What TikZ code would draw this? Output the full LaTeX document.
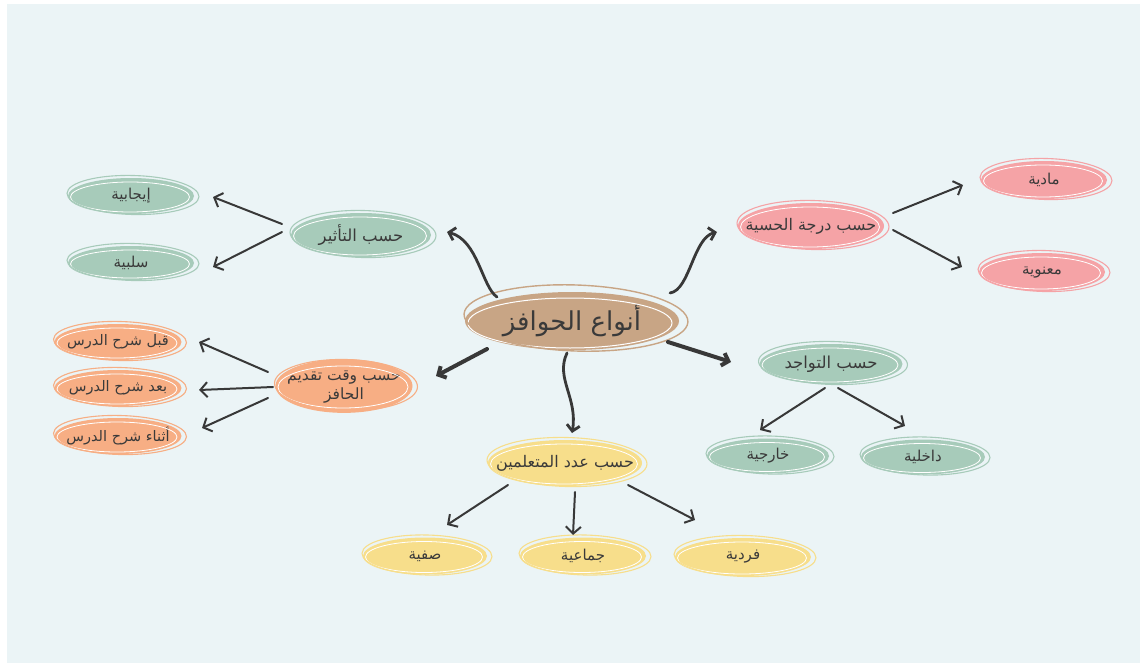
\documentclass[tikz,border=0pt]{standalone}
\usepackage{fontspec}
\usetikzlibrary{shapes.geometric,arrows.meta}
\TeXXeTstate=1
\newfontfamily\arabicfont[Script=Arabic]{DejaVu Sans}
\definecolor{bgc}{HTML}{EBF4F6}
\definecolor{tanc}{HTML}{C8A585}
\definecolor{greenc}{HTML}{A7CBBA}
\definecolor{orangec}{HTML}{F7AE84}
\definecolor{pinkc}{HTML}{F5A3A6}
\definecolor{yellowc}{HTML}{F7DE8B}
\definecolor{inkc}{HTML}{383838}
\definecolor{txtc}{HTML}{3A3A3A}
\tikzset{
  bubble/.style={ellipse, inner sep=0pt, text=txtc, font=\arabicfont},
  arr/.style={draw=inkc, line width=2pt, line cap=round,
    -{Straight Barb[length=7pt,width=15pt]}},
  thickarr/.style={draw=inkc, line width=4pt, line cap=round,
    -{Straight Barb[length=6pt,width=13pt]}},
  curvearr/.style={draw=inkc, line width=2.8pt, line cap=round,
    -{Straight Barb[length=6pt,width=13pt]}},
  sketchw/.style={draw=white, line width=0.8pt},
}
% #1 name, #2 x, #3 y, #4 w, #5 h, #6 colour, #7 font size, #8 text
\newcommand\bub[8]{%
  \node[bubble, fill=#6, minimum width=#4, minimum height=#5] (#1) at (#2,#3)
    {\fontsize{#7}{18}\selectfont\makebox[0pt]{\raisebox{-1pt}{#8}}};
  \draw[sketchw] (#2-1,#3+1) ellipse [x radius=#4/2-3.5, y radius=#5/2-3];
  \draw[draw=#6, line width=1.1pt] (#2+2,#3-1) ellipse [x radius=#4/2+3, y radius=#5/2+1.5, rotate=-1.5];
}
\begin{document}
\begin{tikzpicture}[x=1pt,y=-1pt]
\useasboundingbox (0,0) rectangle (1142,666);
\fill[bgc] (7,4) rectangle (1140,663);

% main
\node[bubble, fill=tanc, minimum width=214, minimum height=58] (main) at (572,321)
  {\fontsize{26}{30}\selectfont\makebox[0pt]{\beginR أنواع الحوافز\endR}};
\draw[sketchw, line width=1pt] (570,323) ellipse [x radius=102, y radius=25];
\draw[draw=tanc, line width=1.4pt] (576,318) ellipse [x radius=112, y radius=33, rotate=-2];

% level 1
\bub{tathir}{361}{235}{140}{44}{greenc}{16.5}{\beginR حسب التأثير\endR}
\node[bubble, fill=orangec, minimum width=137, minimum height=48] (waqt) at (344,386)
  {\fontsize{15.5}{19}\selectfont\makebox[0pt]{\renewcommand\arraystretch{1.0}\begin{tabular}{@{}c@{}}\beginR حسب وقت تقديم\endR\\\beginR الحافز\endR\end{tabular}}};
\draw[sketchw] (343,387) ellipse [x radius=65, y radius=21];
\draw[draw=orangec, line width=1.1pt] (346,385) ellipse [x radius=71.5, y radius=25.5, rotate=-1.5];
\bub{hs}{811}{226}{146}{46}{pinkc}{16}{\beginR حسب درجة الحسية\endR}
\bub{taw}{831}{364}{143}{40}{greenc}{16.5}{\beginR حسب التواجد\endR}
\bub{adad}{565}{463}{154}{46}{yellowc}{16}{\beginR حسب عدد المتعلمين\endR}

% leaves
\bub{ijab}{131}{196}{126}{36}{greenc}{15}{\beginR إيجابية\endR}
\bub{salb}{131}{263}{126}{34}{greenc}{15}{\beginR سلبية\endR}
\bub{qabl}{118}{342}{127}{36}{orangec}{14.5}{\beginR قبل شرح الدرس\endR}
\bub{baad}{118}{388}{127}{36}{orangec}{14.5}{\beginR بعد شرح الدرس\endR}
\bub{athna}{118}{436}{127}{36}{orangec}{14.5}{\beginR أثناء شرح الدرس\endR}
\bub{mad}{1044}{180}{126}{38}{pinkc}{15}{\beginR مادية\endR}
\bub{man}{1042}{272}{126}{38}{pinkc}{15}{\beginR معنوية\endR}
\bub{khar}{768}{456}{122}{35}{greenc}{15}{\beginR خارجية\endR}
\bub{dakh}{923}{457}{124}{35}{greenc}{15}{\beginR داخلية\endR}
\bub{saf}{425}{556}{124}{37}{yellowc}{15}{\beginR صفية\endR}
\bub{jam}{583}{556}{126}{37}{yellowc}{15}{\beginR جماعية\endR}
\bub{fard}{743}{557}{136}{38}{yellowc}{15}{\beginR فردية\endR}

% main connectors
\draw[curvearr] ([shift={(-75,-24)}]main.center) .. controls (482,287) and (478,240) .. ([shift={(86,-3)}]tathir.center);
\draw[curvearr] ([shift={(98,-28)}]main.center) .. controls (690,290) and (693,238) .. ([shift={(-94,6)}]hs.center);
\draw[thickarr] ([shift={(-85,28)}]main.center) -- ([shift={(92,-10)}]waqt.center);
\draw[thickarr] ([shift={(96,21)}]main.center) -- ([shift={(-100,-2)}]taw.center);
\draw[curvearr] ([shift={(-5,32)}]main.center) .. controls (555,378) and (578,398) .. ([shift={(7,-30)}]adad.center);

% leaf connectors
\draw[arr] ([shift={(-79,-11)}]tathir.center) -- ([shift={(82,1)}]ijab.center);
\draw[arr] ([shift={(-79,-3)}]tathir.center) -- ([shift={(82,4)}]salb.center);
\draw[arr] ([shift={(-76,-14)}]waqt.center) -- ([shift={(81,0)}]qabl.center);
\draw[arr] ([shift={(-71,1)}]waqt.center) -- ([shift={(81,2)}]baad.center);
\draw[arr] ([shift={(-76,12)}]waqt.center) -- ([shift={(84,-8)}]athna.center);
\draw[arr] ([shift={(82,-13)}]hs.center) -- ([shift={(-81,5)}]mad.center);
\draw[arr] ([shift={(82,4)}]hs.center) -- ([shift={(-80,-5)}]man.center);
\draw[arr] ([shift={(-6,24)}]taw.center) -- ([shift={(-8,-26)}]khar.center);
\draw[arr] ([shift={(7,24)}]taw.center) -- ([shift={(-18,-31)}]dakh.center);
\draw[arr] ([shift={(-57,22)}]adad.center) -- ([shift={(22,-31)}]saf.center);
\draw[arr] ([shift={(10,29)}]adad.center) -- ([shift={(-10,-21)}]jam.center);
\draw[arr] ([shift={(63,22)}]adad.center) -- ([shift={(-48,-37)}]fard.center);
\end{tikzpicture}
\end{document}
